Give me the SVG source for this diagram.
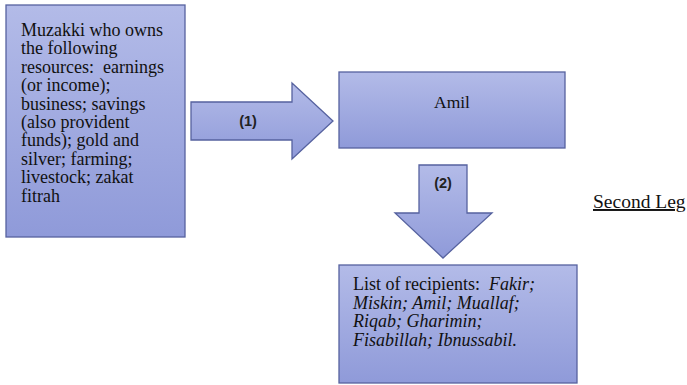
<svg xmlns="http://www.w3.org/2000/svg" width="687" height="385" viewBox="0 0 687 385">
<defs>
<linearGradient id="g" x1="0" y1="0" x2="0" y2="1">
<stop offset="0" stop-color="#b3bbe8"/>
<stop offset="1" stop-color="#8f9ad9"/>
</linearGradient>
</defs>
<style>
.box{fill:url(#g);stroke:#56629f;stroke-width:1.3}
.t{font-family:'Liberation Serif','DejaVu Serif',serif;font-size:18px;fill:#111}
.i{font-style:italic}
.n{font-family:'Liberation Sans','DejaVu Sans',sans-serif;font-size:14.5px;font-weight:bold;fill:#222;text-anchor:middle}
</style>
<rect width="687" height="385" fill="#fff"/>
<g id="muzakki">
<rect class="box" x="6" y="5" width="179" height="232"/>
<text class="t" x="21" y="36">Muzakki who owns</text>
<text class="t" x="21" y="54.4">the following</text>
<text class="t" x="21" y="72.8" xml:space="preserve">resources:  earnings</text>
<text class="t" x="21" y="91.2">(or income);</text>
<text class="t" x="21" y="109.6">business; savings</text>
<text class="t" x="21" y="128">(also provident</text>
<text class="t" x="21" y="146.4">funds); gold and</text>
<text class="t" x="21" y="164.8">silver; farming;</text>
<text class="t" x="21" y="183.2">livestock; zakat</text>
<text class="t" x="21" y="201.6">fitrah</text>
</g>
<g id="amil">
<rect class="box" x="339" y="72" width="226" height="76"/>
<text class="t" x="452" y="108" text-anchor="middle" style="font-size:17.5px">Amil</text>
</g>
<g id="recipients">
<rect class="box" x="339" y="265" width="238" height="118"/>
<text class="t" x="353" y="290" xml:space="preserve">List of recipients:  <tspan class="i">Fakir;</tspan></text>
<text class="t i" x="353" y="308.7">Miskin; Amil; Muallaf;</text>
<text class="t i" x="353" y="327.4">Riqab; Gharimin;</text>
<text class="t i" x="353" y="346.1">Fisabillah; Ibnussabil.</text>
</g>
<g id="connectors">
<polygon class="box" points="191,102 292,102 292,83 333,121 292,159 292,140 191,140"/>
<text class="n" x="248" y="126">(1)</text>
<polygon class="box" points="419,165 467,165 467,213 492,213 443,258 395,213 419,213"/>
<text class="n" x="443" y="188">(2)</text>
</g>
<g id="label">
<text class="t" x="593" y="208" text-decoration="underline" style="font-size:19.5px">Second Leg</text>
</g>
</svg>
